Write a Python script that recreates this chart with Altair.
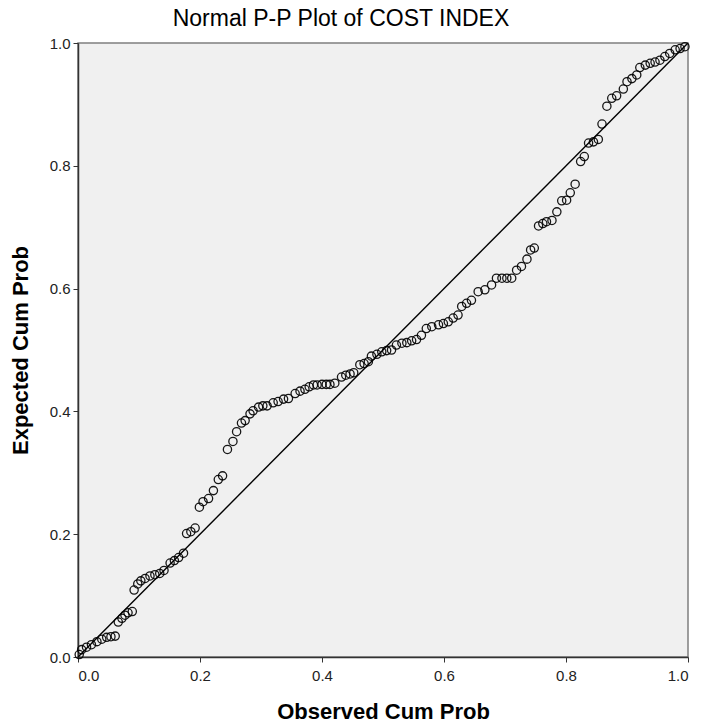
import altair as alt
import pandas as pd

# Observed vs expected cumulative probabilities for COST INDEX
observed = [
    0.002, 0.006, 0.014, 0.022, 0.031, 0.039, 0.047, 0.054, 0.061, 0.066,
    0.072, 0.077, 0.082, 0.089, 0.092, 0.098, 0.103, 0.110, 0.118, 0.126,
    0.134, 0.141, 0.151, 0.158, 0.165, 0.173, 0.178, 0.185, 0.192, 0.199,
    0.205, 0.214, 0.222, 0.230, 0.237, 0.245, 0.254, 0.260, 0.268, 0.274,
    0.282, 0.287, 0.296, 0.303, 0.310, 0.320, 0.328, 0.337, 0.345, 0.356,
    0.364, 0.372, 0.379, 0.386, 0.392, 0.400, 0.407, 0.413, 0.421, 0.432,
    0.439, 0.446, 0.452, 0.462, 0.469, 0.476, 0.481, 0.490, 0.498, 0.506,
    0.514, 0.522, 0.531, 0.539, 0.547, 0.555, 0.563, 0.571, 0.580, 0.591,
    0.599, 0.607, 0.615, 0.623, 0.629, 0.637, 0.645, 0.656, 0.667, 0.678,
    0.686, 0.695, 0.703, 0.711, 0.719, 0.727, 0.736, 0.742, 0.748, 0.755,
    0.762, 0.768, 0.777, 0.785, 0.793, 0.801, 0.807, 0.815, 0.824, 0.830,
    0.837, 0.845, 0.853, 0.859, 0.867, 0.875, 0.883, 0.894, 0.900, 0.908,
    0.916, 0.921, 0.930, 0.938, 0.946, 0.954, 0.962, 0.970, 0.979, 0.987,
    0.995,
]
expected = [
    0.004, 0.012, 0.016, 0.020, 0.025, 0.029, 0.032, 0.033, 0.034, 0.057,
    0.063, 0.068, 0.072, 0.074, 0.109, 0.119, 0.124, 0.128, 0.132, 0.134,
    0.136, 0.141, 0.153, 0.157, 0.162, 0.169, 0.201, 0.204, 0.210, 0.244,
    0.253, 0.258, 0.271, 0.289, 0.295, 0.338, 0.351, 0.367, 0.381, 0.385,
    0.396, 0.401, 0.407, 0.409, 0.409, 0.414, 0.416, 0.420, 0.421, 0.429,
    0.433, 0.436, 0.440, 0.443, 0.443, 0.444, 0.444, 0.444, 0.446, 0.456,
    0.459, 0.461, 0.463, 0.476, 0.478, 0.481, 0.490, 0.493, 0.497, 0.499,
    0.500, 0.508, 0.511, 0.512, 0.515, 0.517, 0.524, 0.535, 0.538, 0.541,
    0.543, 0.546, 0.552, 0.557, 0.571, 0.576, 0.581, 0.595, 0.598, 0.606,
    0.617, 0.617, 0.617, 0.617, 0.630, 0.636, 0.648, 0.663, 0.666, 0.702,
    0.706, 0.709, 0.711, 0.725, 0.743, 0.744, 0.756, 0.770, 0.807, 0.815,
    0.837, 0.839, 0.843, 0.868, 0.897, 0.910, 0.914, 0.925, 0.937, 0.942,
    0.948, 0.960, 0.964, 0.967, 0.969, 0.972, 0.978, 0.983, 0.989, 0.991,
    0.994,
]
ref_line = [0.0, 1.0]
ticks = [0.0, 0.2, 0.4, 0.6, 0.8, 1.0]

points_df = pd.DataFrame({"observed": observed, "expected": expected})
line_df = pd.DataFrame({"observed": ref_line, "expected": ref_line})

x_scale = alt.Scale(domain=[0, 1], nice=False, zero=False)
y_scale = alt.Scale(domain=[0, 1], nice=False, zero=False)

x_axis = alt.Axis(
    title="Observed Cum Prob", values=ticks, format=".1f", grid=False,
    titlePadding=18, labelPadding=6,
)
y_axis = alt.Axis(
    title="Expected Cum Prob", values=ticks, format=".1f", grid=False,
    titlePadding=17, labelPadding=3,
)

diagonal = alt.Chart(line_df).mark_line(color="#000000", strokeWidth=1.4).encode(
    x=alt.X("observed:Q", scale=x_scale, axis=x_axis),
    y=alt.Y("expected:Q", scale=y_scale, axis=y_axis),
)

points = alt.Chart(points_df).mark_point(
    shape="circle", filled=False, color="#000000", size=68, strokeWidth=1.3, opacity=0.9
).encode(
    x=alt.X("observed:Q", scale=x_scale),
    y=alt.Y("expected:Q", scale=y_scale),
)

chart = (
    alt.layer(diagonal, points)
    .properties(
        width=610,
        height=614,
        title=alt.TitleParams(
            "Normal P-P Plot of COST INDEX", fontSize=23, fontWeight="normal",
            font="Liberation Sans", color="#000000", dx=-42, offset=5,
        ),
        padding={"left": 78, "top": 43, "right": 13, "bottom": 70},
        autosize=alt.AutoSizeParams(type="none"),
        background="#ffffff",
    )
    .configure_view(fill="#f0f0f0", stroke="#7f7f7f", strokeWidth=1.5)
    .configure_axis(
        domainColor="#333333", domainWidth=1.5, tickColor="#333333", tickSize=5,
        tickWidth=1, labelFont="Liberation Sans", labelFontSize=15, labelColor="#222222",
        titleFont="Liberation Sans", titleFontSize=22, titleFontWeight="bold",
        titleColor="#000000",
    )
)

chart.save("out.html", embed_options={"renderer": "svg", "actions": False})
